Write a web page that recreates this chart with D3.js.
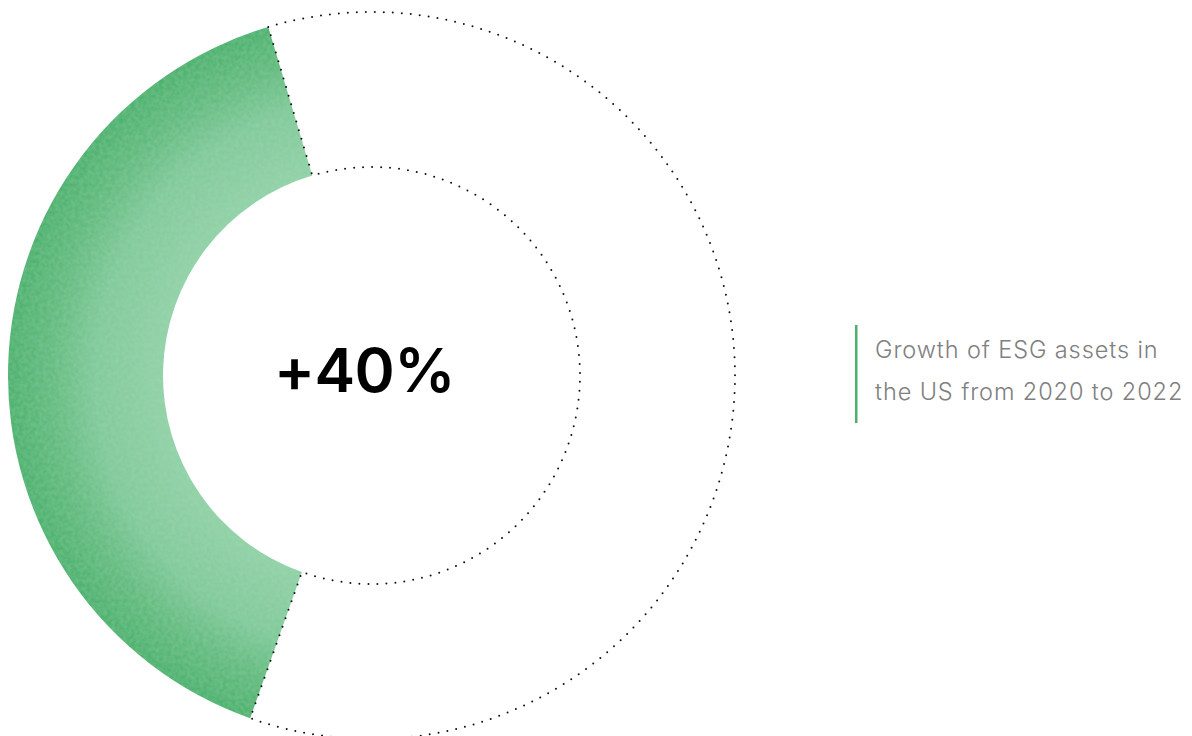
<!DOCTYPE html>
<html><head><meta charset="utf-8">
<script src="https://cdn.jsdelivr.net/npm/d3@7"></script>
<style>body{margin:0;background:#fff;}svg{display:block;}</style>
</head><body>
<script>
const shareValues = [40, 60];
const shareLabels = ["ESG growth", "rest"];
const centerLabel = ["+40%"];
const captionLines = ["Growth of ESG assets in", "the US from 2020 to 2022"];

const W = 1192, H = 736;
const cx = 371.5, cy = 375.5, rOuter = 363.5, rInner = 208.5;
const startDeg = -160.5;

const svg = d3.select("body").append("svg").attr("width", W).attr("height", H);
const defs = svg.append("defs");
const grad = defs.append("radialGradient").attr("id", "g").attr("gradientUnits", "userSpaceOnUse")
  .attr("cx", 0).attr("cy", 0).attr("r", rOuter).attr("fx", 0).attr("fy", 0);
grad.append("stop").attr("offset", rInner / rOuter).attr("stop-color", "#92d2a7");
grad.append("stop").attr("offset", 0.76).attr("stop-color", "#82ca9b");
grad.append("stop").attr("offset", 0.88).attr("stop-color", "#64bc80");
grad.append("stop").attr("offset", 1).attr("stop-color", "#4bb26d");

const noise = defs.append("filter").attr("id", "n").attr("x", 0).attr("y", 0).attr("width", 1).attr("height", 1);
noise.append("feTurbulence").attr("type", "fractalNoise").attr("baseFrequency", 0.25).attr("numOctaves", 2).attr("seed", 3).attr("result", "t");
noise.append("feColorMatrix").attr("in", "t").attr("type", "matrix")
  .attr("values", "0 0 0 0 0.45  0 0 0 0 0.76  0 0 0 0 0.55  0 0 0 0.3 -0.07").attr("result", "c");
noise.append("feComposite").attr("in", "c").attr("in2", "SourceGraphic").attr("operator", "in").attr("result", "m");
noise.append("feMerge").selectAll("feMergeNode").data(["SourceGraphic", "m"]).join("feMergeNode").attr("in", d => d);

const pie = d3.pie().sort(null).value(d => d)
  .startAngle(startDeg * Math.PI / 180).endAngle((startDeg + 360) * Math.PI / 180);
const arcs = pie(shareValues);
const arc = d3.arc().innerRadius(rInner).outerRadius(rOuter);

const g = svg.append("g").attr("transform", `translate(${cx},${cy})`);
g.selectAll("path").data(arcs).join("path")
  .attr("d", arc)
  .attr("fill", (d, i) => i === 0 ? "url(#g)" : "none")
  .attr("filter", (d, i) => i === 0 ? "url(#n)" : null)
  .attr("stroke", (d, i) => i === 0 ? "none" : "#111")
  .attr("stroke-width", (d, i) => i === 0 ? 0 : 2)
  .attr("stroke-linecap", "round")
  .attr("stroke-dasharray", "0 9");

g.append("text").text(centerLabel[0])
  .attr("x", -7).attr("y", 16)
  .attr("text-anchor", "middle")
  .attr("font-family", "Inter, sans-serif").attr("font-weight", 600)
  .attr("font-size", 61).attr("letter-spacing", -0.5).attr("fill", "#000");

svg.append("rect").attr("x", 855).attr("y", 325).attr("width", 2.5).attr("height", 98).attr("fill", "#4cb06d");
svg.append("g").selectAll("text").data(captionLines).join("text")
  .attr("x", 875).attr("y", (d, i) => 358 + i * 42)
  .attr("font-family", "Inter, sans-serif").attr("font-weight", 300)
  .attr("font-size", 23.5).attr("letter-spacing", 0.9).attr("fill", "#808080")
  .text(d => d);
</script>
</body></html>
